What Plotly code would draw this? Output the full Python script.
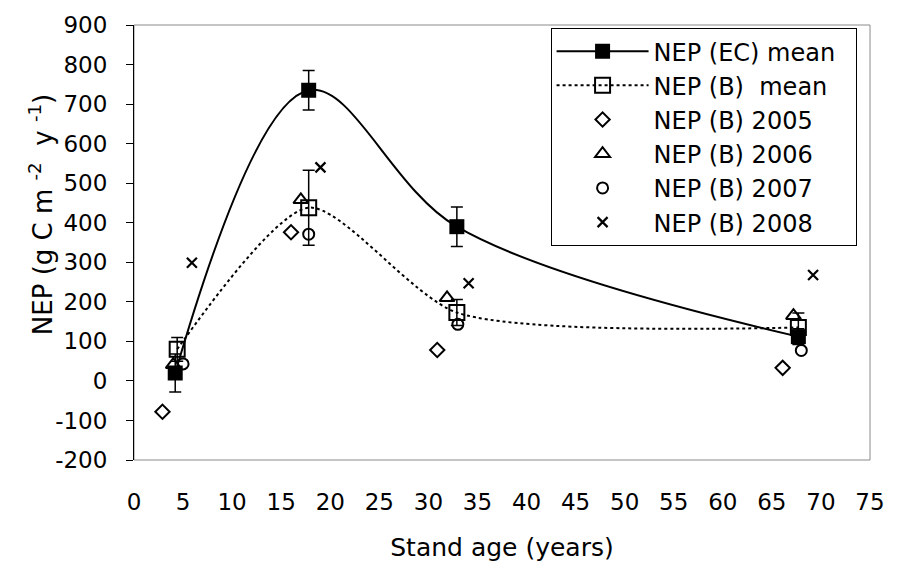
import plotly.graph_objects as go

# ---- data ----
age_ec = [4.2, 17.8, 32.9, 67.7]
nep_ec = [20, 735, 390, 112]
err_ec = [48, 50, 50, 20]

age_bm = [4.4, 17.8, 32.9, 67.7]
nep_bm = [80, 438, 173, 135]
err_bm = [30, 95, 33, 37]

age_05 = [2.9, 16.0, 30.9, 66.1]
nep_05 = [-78, 376, 78, 33]
age_06 = [4.0, 17.0, 31.9, 67.2]
nep_06 = [41, 458, 210, 165]
age_07 = [5.0, 17.8, 33.0, 68.0]
nep_07 = [43, 371, 143, 77]
age_08 = [5.9, 19.0, 34.1, 69.2]
nep_08 = [299, 540, 247, 268]

x_ticks = list(range(0, 80, 5))
y_ticks = list(range(-200, 1000, 100))
y_ticktext = [str(v) for v in y_ticks]

FONT = "DejaVu Sans, Liberation Sans, Arial, sans-serif"
FS = 23
PAD = "\u00a0\u00a0"

fig = go.Figure()

fig.add_trace(go.Scatter(
    x=age_bm, y=nep_bm, name="NEP (B)  mean" + PAD, mode="lines+markers",
    line=dict(color="black", width=2, dash="dot", shape="spline", smoothing=0.7),
    marker=dict(symbol="square-open", size=15, color="black", line=dict(width=2)),
    error_y=dict(type="data", array=err_bm, color="black", thickness=1.5, width=6),
    legendgroup="b", legendrank=2))

fig.add_trace(go.Scatter(
    x=age_ec, y=nep_ec, name="NEP (EC) mean" + PAD, mode="lines+markers",
    line=dict(color="black", width=2, shape="spline", smoothing=1),
    marker=dict(symbol="square", size=15, color="black"),
    error_y=dict(type="data", array=err_ec, color="black", thickness=1.5, width=6),
    legendgroup="a", legendrank=1))

fig.add_trace(go.Scatter(
    x=age_05, y=nep_05, name="NEP (B) 2005", mode="markers",
    marker=dict(symbol="diamond-open", size=11, color="black", line=dict(width=2)),
    legendgroup="c", legendrank=3))
fig.add_trace(go.Scatter(
    x=age_06, y=nep_06, name="NEP (B) 2006", mode="markers",
    marker=dict(symbol="triangle-up-open", size=13, color="black", line=dict(width=2)),
    legendgroup="d", legendrank=4))
fig.add_trace(go.Scatter(
    x=age_07, y=nep_07, name="NEP (B) 2007", mode="markers",
    marker=dict(symbol="circle-open", size=11, color="black", line=dict(width=2)),
    legendgroup="e", legendrank=5))
fig.add_trace(go.Scatter(
    x=age_08, y=nep_08, name="NEP (B) 2008", mode="markers",
    marker=dict(symbol="x-thin-open", size=10, color="black", line=dict(width=2.2)),
    legendgroup="f", legendrank=6))

fig.update_layout(
    width=897, height=571,
    margin=dict(l=134, r=23, t=17, b=111),
    paper_bgcolor="white", plot_bgcolor="white",
    font=dict(family=FONT, size=FS, color="black"),
    showlegend=True,
    legend=dict(
        x=0.566, y=0.993, xanchor="left", yanchor="top",
        bgcolor="white", bordercolor="black", borderwidth=1,
        font=dict(family=FONT, size=24),
        traceorder="grouped", tracegroupgap=0,
        itemwidth=92,
    ),
    xaxis=dict(
        range=[0, 75], tickvals=x_ticks, ticks="", showline=False,
        showgrid=False, zeroline=False, ticklabelstandoff=26,
        title=dict(text="Stand age (years)", standoff=24,
                   font=dict(family=FONT, size=25)),
        tickfont=dict(family=FONT, size=FS),
    ),
    xaxis2=dict(
        range=[0, 75], overlaying="x", anchor="free", position=200 / 1100,
        side="bottom", tickvals=x_ticks, ticks="outside", ticklen=6,
        tickcolor="black", tickwidth=1, showticklabels=False,
        showline=True, linecolor="black", linewidth=1, showgrid=False,
        zeroline=False,
    ),
    yaxis=dict(
        range=[-200, 900], tickvals=y_ticks, ticktext=y_ticktext,
        ticks="outside", ticklen=7,
        tickcolor="black", showline=True, linecolor="black", linewidth=1,
        showgrid=False, zeroline=False, ticklabelstandoff=14,
        tickfont=dict(family=FONT, size=FS),
    ),
    annotations=[dict(
        text="NEP (g C m <sup>-2</sup>  y <sup>-1</sup>)", textangle=-90,
        xref="paper", yref="paper", x=-0.127, y=0.564,
        xanchor="center", yanchor="middle", showarrow=False,
        font=dict(family=FONT, size=26))],
    shapes=[dict(type="rect", xref="paper", yref="paper", x0=0, x1=1, y0=0, y1=1,
                 line=dict(color="#8a8a8a", width=1), layer="below")],
)

fig.write_html("out.html")
